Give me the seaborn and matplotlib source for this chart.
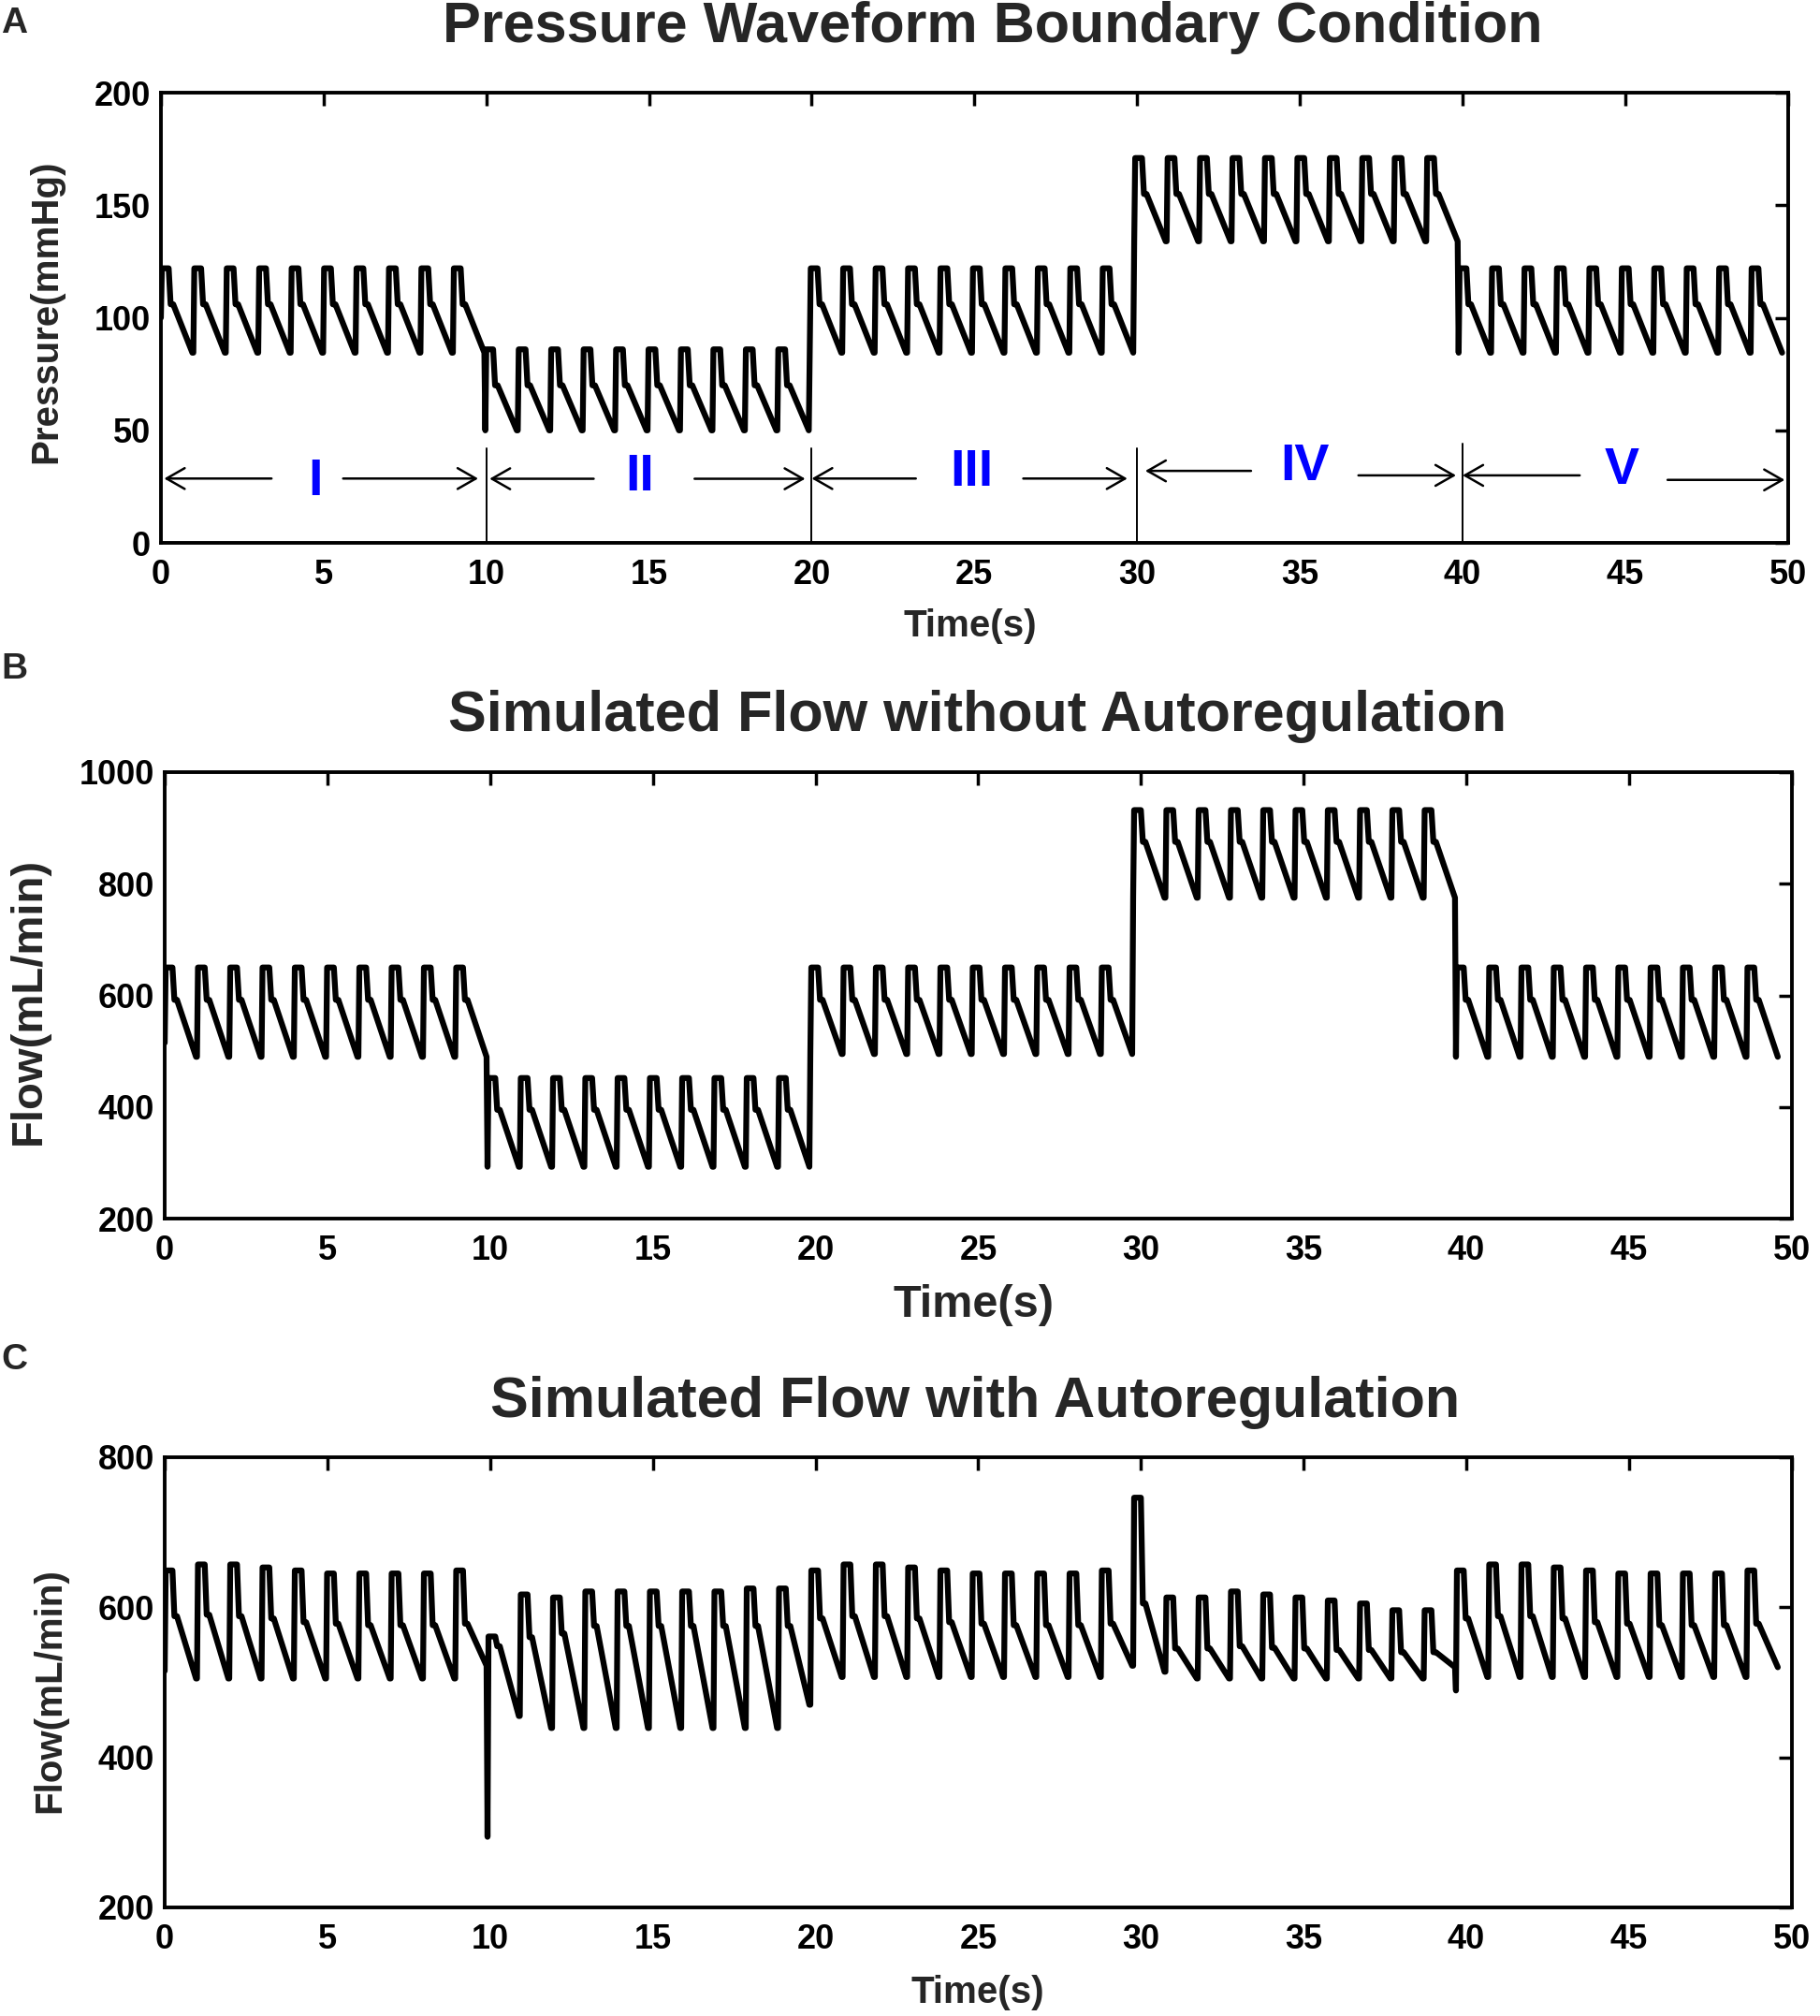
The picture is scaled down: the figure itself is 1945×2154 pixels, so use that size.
import numpy as np
import pandas as pd
import seaborn as sns
import matplotlib.pyplot as plt

# one heart beat as fractions of the beat period:
# start -> systolic peak (held) -> dicrotic notch (held) -> end of diastole
beat_phase = [0.00, 0.03, 0.24, 0.30, 0.38, 0.97]

# panel A: pressure boundary condition, 5 regions of 10 beats
pressure_period = 0.997
pressure_peak = [122, 86, 122, 171, 122]
pressure_notch = [106, 70, 106, 155, 106]
pressure_trough = [84.5, 50, 84.5, 134, 84.5]
pressure_first_start = 100

# panel B: flow without autoregulation
flow_b_period = 0.992
flow_b_peak = [650, 452, 650, 932, 650]
flow_b_notch = [592, 395, 592, 875, 592]
flow_b_trough = [490, 293, 495, 775, 490]
flow_b_first_start = 515

# panel C: flow with autoregulation, beat by beat
flow_c_period = 0.992
flow_c_peak = ([649, 657, 657, 653, 649, 645, 645, 645, 645, 649]
               + [561, 617, 613, 621, 621, 621, 621, 621, 625, 625]
               + [649, 657, 657, 653, 649, 645, 645, 645, 645, 649]
               + [746, 613, 613, 621, 617, 613, 609, 605, 596, 596]
               + [649, 657, 657, 653, 649, 645, 645, 645, 645, 649])
flow_c_notch = ([588, 590, 588, 585, 580, 578, 576, 576, 576, 578]
                + [548, 560, 565, 575, 575, 575, 575, 575, 575, 575]
                + [585, 588, 588, 585, 580, 578, 576, 576, 576, 578]
                + [605, 545, 545, 548, 546, 545, 543, 543, 540, 540]
                + [585, 588, 588, 585, 580, 578, 576, 576, 576, 578])
flow_c_start = ([515, 505, 505, 505, 505, 505, 505, 505, 505, 505]
                + [294, 455, 439, 439, 439, 439, 439, 439, 439, 439]
                + [470, 507, 507, 507, 507, 507, 507, 507, 507, 507]
                + [522, 514, 505, 505, 505, 505, 505, 505, 505, 505]
                + [489, 507, 507, 507, 507, 507, 507, 507, 507, 507])
flow_c_end = ([505, 505, 505, 505, 505, 505, 505, 505, 505, 522]
              + [455, 439, 439, 439, 439, 439, 439, 439, 439, 470]
              + [507, 507, 507, 507, 507, 507, 507, 507, 507, 522]
              + [514, 505, 505, 505, 505, 505, 505, 505, 505, 520]
              + [507, 507, 507, 507, 507, 507, 507, 507, 507, 520])

# region annotations in panel A
region_names = ["I", "II", "III", "IV", "V"]
region_label_x = [4.74, 14.7, 24.9, 35.16, 44.9]
region_label_y = [27, 29, 31.4, 33.7, 32]
left_arrow_x = [(3.4, 0.1), (13.3, 10.1), (23.2, 20.0), (33.5, 30.25), (43.6, 40.0)]
left_arrow_y = [28.6, 28.5, 28.6, 32, 30]
right_arrow_x = [(5.6, 9.75), (16.4, 19.8), (26.5, 29.7), (36.8, 39.8), (46.3, 49.9)]
right_arrow_y = [28.6, 28.5, 28.6, 30, 28]
divider_x = [10, 20, 30, 40]
divider_top = [42, 42, 42, 44]


def beat_trace(period, start, peak, notch, end):
    t, v = [], []
    for k in range(len(peak)):
        t0 = k * period
        vals = (start[k], peak[k], peak[k], notch[k], notch[k], end[k])
        for ph, val in zip(beat_phase, vals):
            t.append(t0 + ph * period)
            v.append(val)
    return pd.DataFrame({"Time": t, "Value": v})


def region_trace(period, peak, notch, trough, first_start):
    pk = np.repeat(peak, 10)
    nt = np.repeat(notch, 10)
    tr = np.repeat(trough, 10)
    st = tr.copy()
    st[0] = first_start
    return beat_trace(period, st, pk, nt, tr)


sns.set_theme(style="white")
plt.rcParams['font.family'] = ['Liberation Sans', 'DejaVu Sans']
plt.rcParams['font.weight'] = 'bold'

fig = plt.figure(figsize=(19.45, 21.54), dpi=100)
ax_a = fig.add_axes([0.0884, 0.7307, 0.894, 0.2233])
ax_b = fig.add_axes([0.0905, 0.3955, 0.894, 0.2215])
ax_c = fig.add_axes([0.0905, 0.0539, 0.894, 0.2233])

df_a = region_trace(pressure_period, pressure_peak, pressure_notch, pressure_trough, pressure_first_start)
df_b = region_trace(flow_b_period, flow_b_peak, flow_b_notch, flow_b_trough, flow_b_first_start)
df_c = beat_trace(flow_c_period, flow_c_start, flow_c_peak, flow_c_notch, flow_c_end)

for ax, df, ylim, yticks in [
    (ax_a, df_a, (0, 200), range(0, 201, 50)),
    (ax_b, df_b, (200, 1000), range(200, 1001, 200)),
    (ax_c, df_c, (200, 800), range(200, 801, 200)),
]:
    sns.lineplot(data=df, x="Time", y="Value", ax=ax, color="black", lw=4.5,
                 sort=False, estimator=None)
    ax.set_xlim(0, 50)
    ax.set_ylim(*ylim)
    ax.set_xticks(range(0, 51, 5))
    ax.set_yticks(list(yticks))
    ax.set_xlabel("")
    ax.set_ylabel("")
    for sp in ax.spines.values():
        sp.set_visible(True)
        sp.set_linewidth(2.8)
        sp.set_color("black")
    ax.tick_params(axis="both", direction="in", length=10, width=2.5,
                   top=True, right=True, labelsize=26, colors="black")
    ax.tick_params(axis="x", pad=12)
    ax.tick_params(axis="y", pad=8)

# region markers on the pressure panel
for x, top in zip(divider_x, divider_top):
    ax_a.plot([x, x], [0, top], color="black", lw=1.4)
for i, name in enumerate(region_names):
    ax_a.text(region_label_x[i], region_label_y[i], name, color="#0000ff",
              fontsize=40, ha="center", va="center")
    for (x0, x1), y in [(left_arrow_x[i], left_arrow_y[i]), (right_arrow_x[i], right_arrow_y[i])]:
        ax_a.annotate("", xy=(x1, y), xytext=(x0, y),
                      arrowprops=dict(arrowstyle="->,head_length=0.7,head_width=0.4",
                                      color="black", lw=1.8, mutation_scale=20,
                                      shrinkA=0, shrinkB=0))

# titles, panel letters, axis labels
fig.text(0.5456, 0.9862, "Pressure Waveform Boundary Condition", fontsize=44, ha="center", va="center")
fig.text(0.537, 0.6444, "Simulated Flow without Autoregulation", fontsize=44, ha="center", va="center")
fig.text(0.536, 0.3045, "Simulated Flow with Autoregulation", fontsize=44, ha="center", va="center")
fig.text(0.008, 0.9884, "A", fontsize=28, ha="center", va="center")
fig.text(0.008, 0.6681, "B", fontsize=28, ha="center", va="center")
fig.text(0.008, 0.3254, "C", fontsize=28, ha="center", va="center")

fig.text(0.5332, 0.6894, "Time(s)", fontsize=29, ha="center", va="center")
fig.text(0.5352, 0.3524, "Time(s)", fontsize=35, ha="center", va="center")
fig.text(0.5373, 0.0116, "Time(s)", fontsize=29, ha="center", va="center")
fig.text(0.0252, 0.8454, "Pressure(mmHg)", fontsize=29, rotation=90, ha="center", va="center")
fig.text(0.0159, 0.5037, "Flow(mL/min)", fontsize=34, rotation=90, ha="center", va="center")
fig.text(0.0272, 0.1616, "Flow(mL/min)", fontsize=29, rotation=90, ha="center", va="center")

fig.savefig("out.png", dpi=100, facecolor="white")
